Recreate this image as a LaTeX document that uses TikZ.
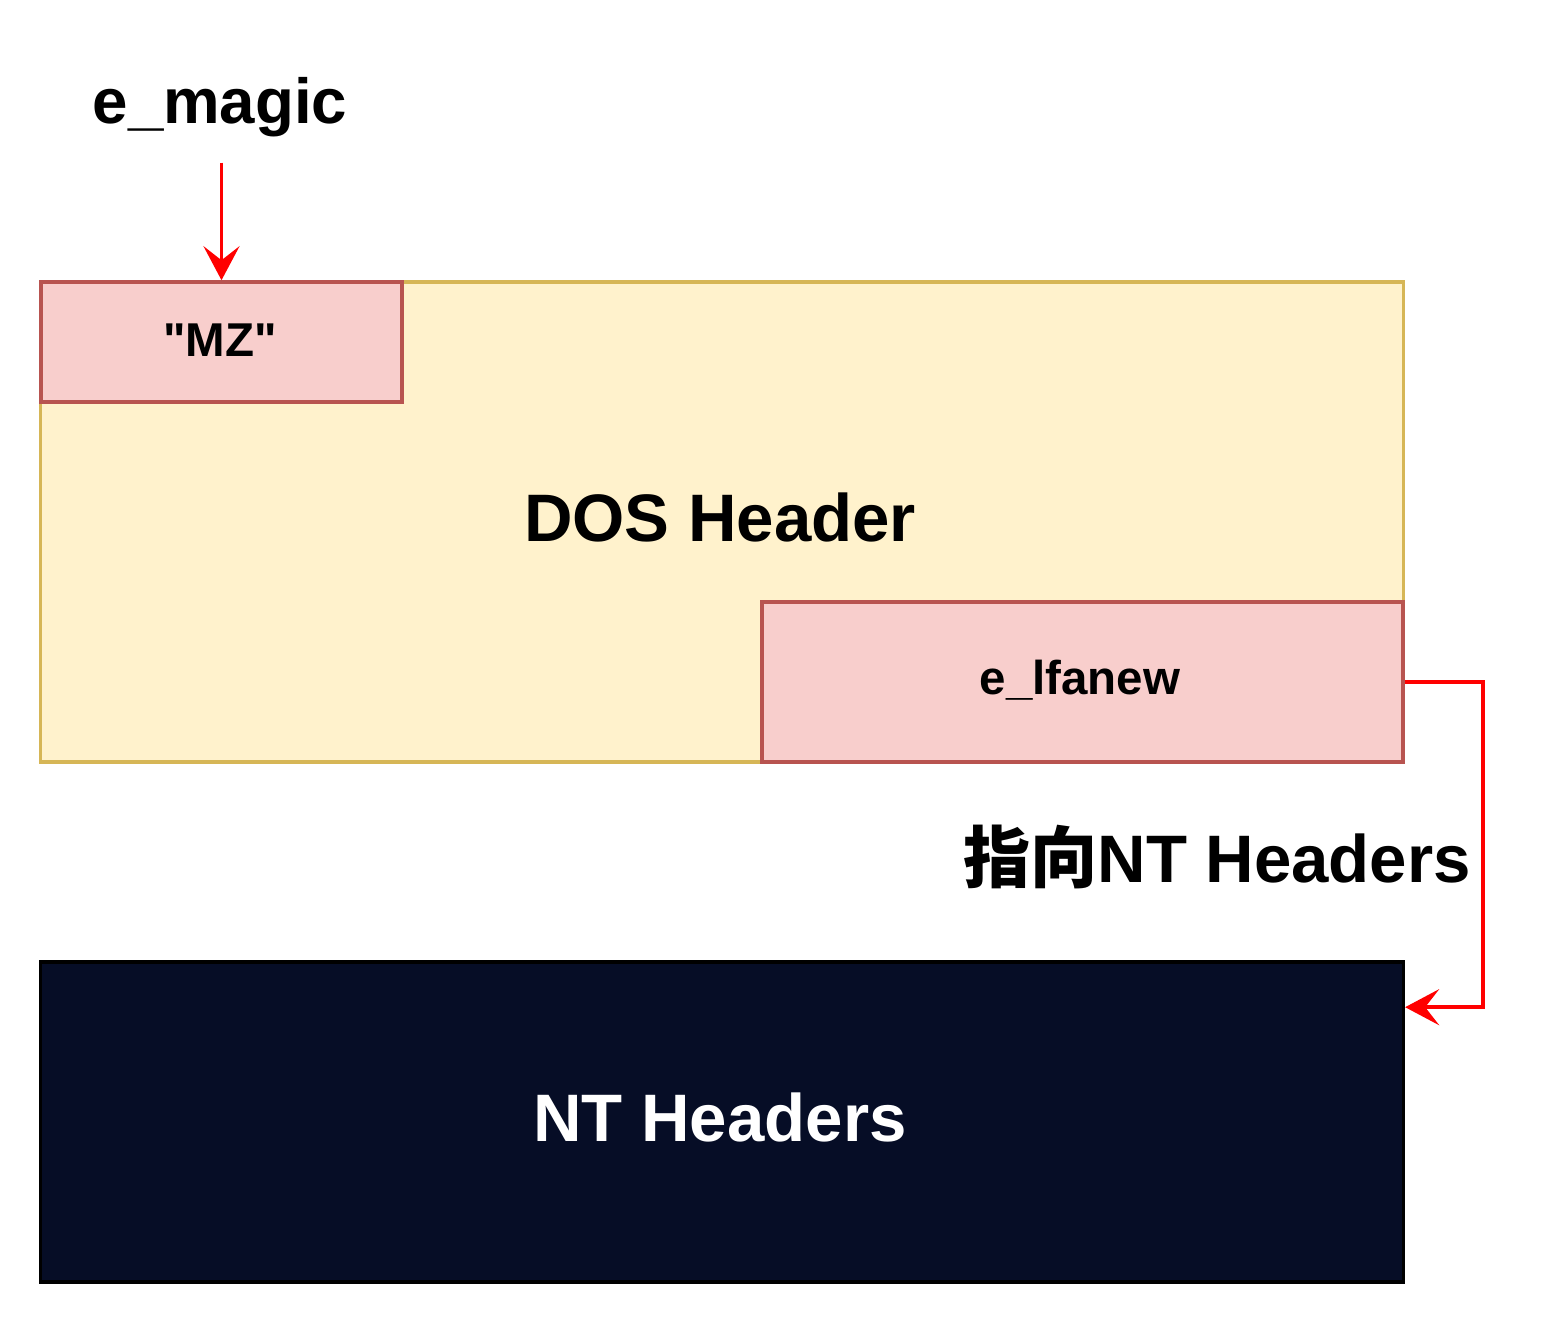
\documentclass[tikz,border=0pt]{standalone}
\usepackage{fontspec}
\setmainfont{Liberation Sans}[Ligatures=TeXOff]
\newfontfamily\cjk{Noto Sans CJK SC}
\usetikzlibrary{arrows.meta}
\definecolor{dosfill}{HTML}{FFF2CC}
\definecolor{dosline}{HTML}{D6B656}
\definecolor{fieldfill}{HTML}{F8CECC}
\definecolor{fieldline}{HTML}{B85450}
\definecolor{ntfill}{HTML}{060D26}
\definecolor{ptrred}{HTML}{FF0000}

\begin{document}
\begin{tikzpicture}[x=0.01cm,y=-0.01cm,
        dosbox/.style={draw=dosline,fill=dosfill,rectangle,line width=0.035cm,inner sep=0pt},
        fieldbox/.style={draw=fieldline,fill=fieldfill,rectangle,line width=0.035cm,inner sep=0pt},
        ntbox/.style={draw=black,fill=ntfill,rectangle,line width=0.035cm,inner sep=0pt},
        bigtext/.style={font=\fontsize{19.1}{23}\selectfont\bfseries,inner sep=0pt},
        smalltext/.style={font=\fontsize{13.5}{16}\selectfont\bfseries,inner sep=0pt},
        ptr/.style={draw=ptrred,line width=0.035cm,-{Stealth[length=3.4mm,width=3.6mm,inset=1.4mm]}}
      ]
      \useasboundingbox (0,0) rectangle (1560,1324);
      % boxes
      \node[dosbox,minimum width=13.62cm,minimum height=4.8cm] (dos) at (722,522) {};
      \node[fieldbox,minimum width=3.61cm,minimum height=1.2cm] (mz) at (221.5,342) {};
      \node[fieldbox,minimum width=6.41cm,minimum height=1.6cm] (lfanew) at (1082.5,682) {};
      \node[ntbox,minimum width=13.62cm,minimum height=3.2cm] (nt) at (722,1122) {};
      % texts
      \node[bigtext] (doslabel) at (720,517) {DOS Header};
      \node[smalltext] (mzlabel) at (220,340) {"MZ"};
      \node[smalltext] (lfanewlabel) at (1080,680) {e\_lfanew};
      \node[bigtext,text=white] (ntlabel) at (720,1117) {NT Headers};
      \node[font=\fontsize{18.1}{22}\selectfont\bfseries,inner xsep=0pt,inner ysep=0.25cm] (emagic) at (220,107) {e\_magic};
      \node[bigtext] (ptrlabel) at (1217,857) {{\cjk\bfseries 指向}NT Headers};
      % arrows
      \draw[ptr] (mz.north |- emagic.south) -- (mz.north);
      \draw[ptr] (lfanew.east) -- ++(78,0) |- ([yshift=-0.47cm]nt.north east);
    \end{tikzpicture}
\end{document}
